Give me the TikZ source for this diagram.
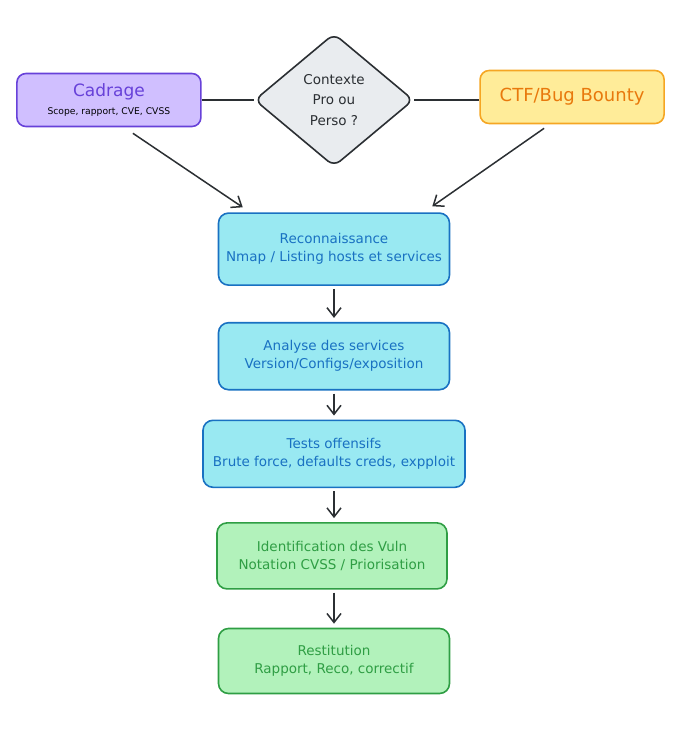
\documentclass[tikz,border=0pt]{standalone}
\usepackage{fontspec}
\setmainfont{DejaVu Sans}
\usepackage{xcolor}
\usetikzlibrary{arrows.meta,positioning,calc,shapes.geometric}

\definecolor{violetfill}{HTML}{D0BFFF}
\definecolor{violetline}{HTML}{6741D9}
\definecolor{yellowfill}{HTML}{FFEC99}
\definecolor{yellowline}{HTML}{F5A623}
\definecolor{orangetext}{HTML}{E8790C}
\definecolor{greyfill}{HTML}{E9ECEF}
\definecolor{inkline}{HTML}{2B2F33}
\definecolor{cyanfill}{HTML}{99E9F2}
\definecolor{blueline}{HTML}{1971C2}
\definecolor{greenfill}{HTML}{B2F2BB}
\definecolor{greenline}{HTML}{2F9E44}

\begin{document}
\begin{tikzpicture}[
  font=\fontsize{13.5}{18}\selectfont, node distance=36pt,
  phase/.style={draw=blueline, line width=1.6pt, rounded corners=10pt, fill=cyanfill, text=blueline, align=center, minimum width=231pt, inner xsep=2pt},
  result/.style={draw=greenline, line width=1.6pt, rounded corners=10pt, fill=greenfill, text=greenline, align=center, minimum width=231pt, minimum height=66pt},
  ctxbox/.style={line width=1.6pt, rounded corners=9pt, align=center, minimum width=184pt, minimum height=53pt},
  choice/.style={draw=inkline, line width=1.6pt, diamond, rounded corners=8pt, fill=greyfill, text=inkline, align=center, minimum width=159pt, minimum height=133pt, inner sep=0pt, font=\fontsize{13.5}{20.5}\selectfont},
  link/.style={draw=inkline, line width=1.8pt},
  arr/.style={-{Straight Barb[length=9pt, width=14pt, line width=1.5pt]}, draw=inkline, line width=1.5pt, shorten <=3pt, shorten >=4pt}]
  \useasboundingbox (0,0) rectangle (687pt,-729pt);
  % top row: context choice
  \node[choice] (ctx) at (334pt,-100pt) {Contexte\\Pro ou\\Perso ?};
  \node[ctxbox, draw=violetline, fill=violetfill, left=52pt of ctx] (cad) {{\fontsize{17}{19}\selectfont\color{violetline}Cadrage}\\[0pt]{\fontsize{9.2}{11}\selectfont Scope, rapport, CVE, CVSS}};
  \node[ctxbox, draw=yellowline, fill=yellowfill, text=orangetext, right=65pt of ctx, yshift=3pt, font=\fontsize{18}{20}\selectfont] (ctf) {CTF/Bug Bounty};
  % pentest chain
  \node[phase, minimum height=72pt, below=45pt of ctx] (recon) {Reconnaissance\\Nmap / Listing hosts et services};
  \node[phase, minimum height=67pt, below=of recon] (ana) {Analyse des services\\Version/Configs/exposition};
  \node[phase, minimum height=67pt, minimum width=262pt, below=29pt of ana] (tests) {Tests offensifs\\Brute force, defaults creds, expploit};
  \node[result, minimum width=230pt, below=34pt of tests, xshift=-2pt] (vuln) {Identification des Vuln\\Notation CVSS / Priorisation};
  \node[result, minimum height=65pt, below=38pt of vuln, xshift=2pt] (rest) {Restitution\\Rapport, Reco, correctif};
  % connectors
  \draw[link] (cad) -- (cad -| ctx.west);
  \draw[link] (ctx.east) -- (ctf.west |- ctx.east);
  \draw[arr, shorten <=0pt, shorten >=0pt] ($(cad.south)+(24pt,-6pt)$) -- ($(recon.north west)+(25pt,5pt)$);
  \draw[arr, shorten <=0pt, shorten >=0pt] ($(ctf.south)+(-28pt,-4pt)$) -- ($(recon.north east)+(-18pt,6pt)$);
  \draw[arr] (recon) -- (ana);
  \draw[arr] (ana) -- (tests);
  \draw[arr] (tests) -- (tests |- vuln.north);
  \draw[arr] (vuln.south -| tests) -- (tests |- rest.north);
\end{tikzpicture}
\end{document}
